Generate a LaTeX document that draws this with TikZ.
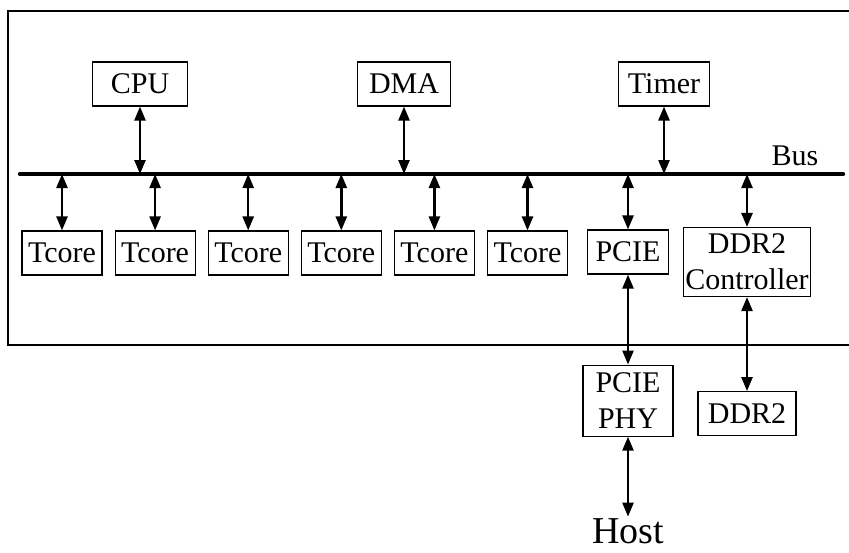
\documentclass[tikz,border=0pt]{standalone}
\usepackage{fontspec}
\setmainfont{Liberation Serif}
\usetikzlibrary{arrows.meta, positioning}

\begin{document}
\begin{tikzpicture}[
	x=0.5pt, y=-0.5pt,
	node distance=6pt,
	box/.style={rectangle, draw, line width=0.55pt,
		inner xsep=1pt, inner ysep=2pt, minimum height=22pt,
		align=center, font=\fontsize{15}{18}\selectfont},
	link/.style={{Triangle[length=7pt,width=5.5pt]}-{Triangle[length=7pt,width=5.5pt]}, line width=1.2pt},
	bus/.style={line width=2.2pt, line cap=round}
	]
	\useasboundingbox (0,0) rectangle (849,552);
	% chip frame
	\draw[line width=0.8pt] (849,11) -- (8,11) -- (8,345) -- (849,345);
	
	% bus
	\coordinate (busL) at (20,174);
	\coordinate (busR) at (843,174);
	\draw[bus] (busL) -- (busR);
	\node[font=\fontsize{15}{18}\selectfont] (buslbl) at (795,156) {Bus};
	
	\node[box, minimum width=47.5pt] (cpu) at (140,84) {CPU};
	\node[box, minimum width=46.5pt] (dma) at (404,84) {DMA};
	\node[box, minimum width=45.5pt] (timer) at (664,84) {Timer};
	
	\node[box, minimum width=40pt] (tc1) at (62,253) {Tcore};
	\node[box, minimum width=40pt, right=of tc1] (tc2) {Tcore};
	\node[box, minimum width=40pt, right=of tc2] (tc3) {Tcore};
	\node[box, minimum width=40pt, right=of tc3] (tc4) {Tcore};
	\node[box, minimum width=40pt, right=of tc4] (tc5) {Tcore};
	\node[box, minimum width=40pt, right=of tc5] (tc6) {Tcore};
	\node[box, minimum width=40.5pt] (pcie) at (628,252) {PCIE};
	\node[box, minimum width=63.5pt, minimum height=34.5pt] (ddrc) at (747,262)
	{DDR2\\Controller};
	
	\node[box, minimum width=45pt, minimum height=35.5pt, below=45pt of pcie] (phy)
	{PCIE\\PHY};
	\node[box, minimum width=49pt, below=47pt of ddrc] (ddr) {DDR2};
	\node[font=\fontsize{19}{22}\selectfont, inner sep=1pt, below=40pt of phy] (host) {Host};
	
	\draw[link] (cpu) -- (cpu |- busL);
	\draw[link] (dma) -- (dma |- busL);
	\draw[link] (timer) -- (timer |- busL);
	\draw[link] (tc1) -- (tc1 |- busL);
	\draw[link] (tc2) -- (tc2 |- busL);
	\draw[link] (tc3) -- (tc3 |- busL);
	\draw[link] (tc4) -- (tc4 |- busL);
	\draw[link] (tc5) -- (tc5 |- busL);
	\draw[link] (tc6) -- (tc6 |- busL);
	\draw[link] (pcie) -- (pcie |- busL);
	\draw[link] (ddrc) -- (ddrc |- busL);
	\draw[link] (pcie) -- (phy);
	\draw[link] (ddrc) -- (ddr);
	\draw[link] (phy) -- (host);
\end{tikzpicture}
\end{document}
